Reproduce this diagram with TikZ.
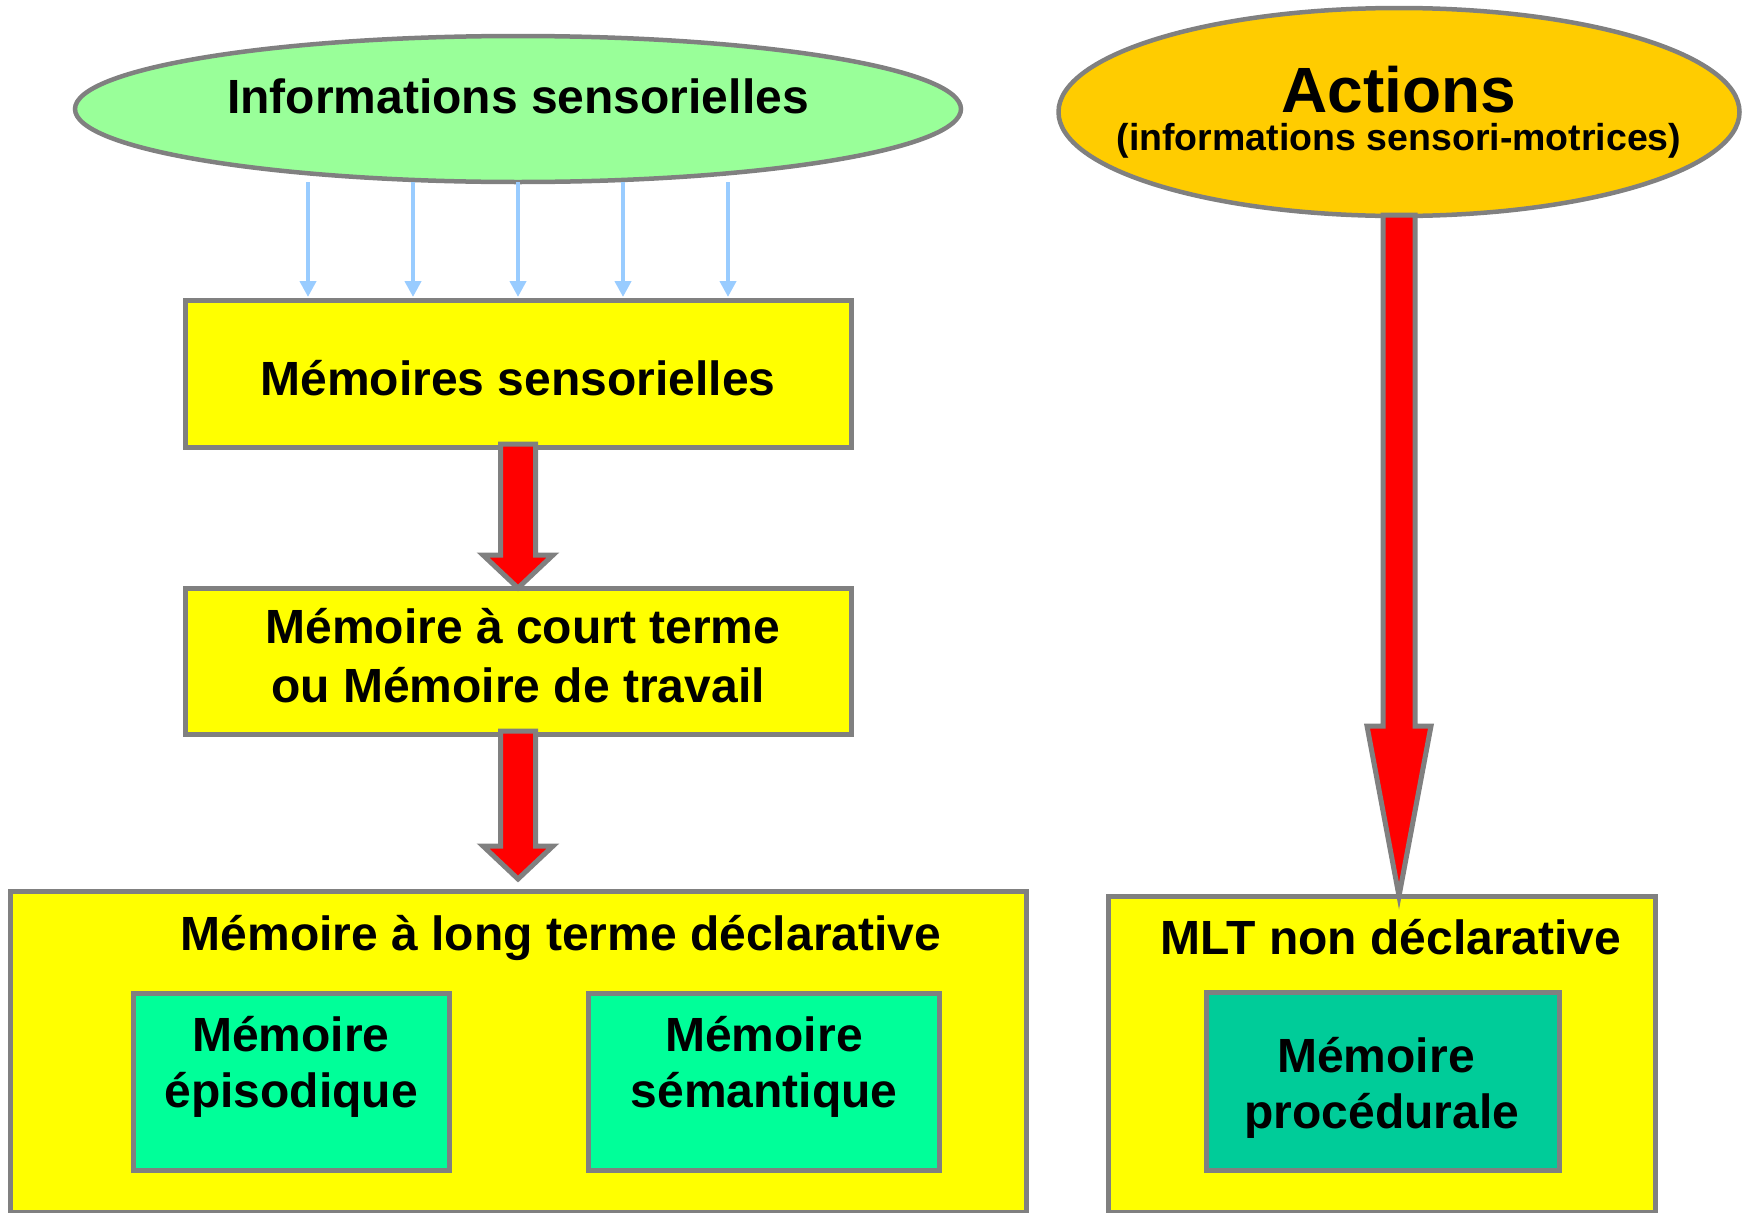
\documentclass[tikz,border=0pt]{standalone}
\usepackage{fontspec}
\setmainfont{Liberation Sans}
\usetikzlibrary{shapes.geometric,arrows.meta,calc}
\definecolor{lgreen}{HTML}{99FF99}
\definecolor{gold}{HTML}{FFCC00}
\definecolor{yel}{HTML}{FFFF00}
\definecolor{mint}{HTML}{00FF99}
\definecolor{teal2}{HTML}{00CC99}
\definecolor{grayb}{HTML}{808080}
\definecolor{skyb}{HTML}{99CCFF}
\begin{document}
\begin{tikzpicture}[x=1pt,y=-1pt,
  frame/.style={draw=grayb,line width=5pt,rectangle,inner sep=0pt,outer sep=0pt},
  oval/.style={draw=grayb,line width=4.5pt,ellipse,inner sep=0pt,outer sep=0pt},
  lbl/.style={anchor=base,inner sep=0pt,font=\bfseries\fontsize{48}{57}\selectfont},
  fat/.style={draw=grayb,line width=5pt,fill=red,line join=miter,miter limit=30},
  thinarrow/.style={draw=skyb,line width=4pt,-{Triangle[width=16pt,length=16pt]}}
]
\useasboundingbox[fill=white] (0,0) rectangle (1746,1213);

% ellipses
\node[oval,fill=lgreen,minimum width=886pt,minimum height=146pt] (info) at (518,109) {};
\node[oval,fill=gold,minimum width=681pt,minimum height=208pt] (act) at (1399,112) {};

% boxes
\node[frame,fill=yel,minimum width=666pt,minimum height=147pt] (ms) at (518,373.5) {};
\node[frame,fill=yel,minimum width=666pt,minimum height=146pt] (stm) at (518,661) {};
\node[frame,fill=yel,minimum width=1016pt,minimum height=321pt] (ltm) at (518,1051.5) {};
\node[frame,fill=mint,minimum width=316pt,minimum height=177pt] (epi) at (291,1081.5) {};
\node[frame,fill=mint,minimum width=351pt,minimum height=177pt] (sem) at (763.5,1081.5) {};
\node[frame,fill=yel,minimum width=547pt,minimum height=316pt] (mlt) at (1381.5,1054) {};
\node[frame,fill=teal2,minimum width=353pt,minimum height=178pt] (proc) at (1382.5,1081) {};

% thin blue arrows
\foreach \dx in {-210,-105,0,105,210}
  \draw[thinarrow] ($(info.south)+(\dx,0)$) -- ($(ms.north)+(\dx,-3)$);

% fat red arrows
\coordinate (a1s) at ($(ms.south)+(0,-3)$);
\coordinate (a1t) at (stm.north);
\draw[fat] ($(a1s)+(-17.5,0)$) -- ($(a1s)+(17.5,0)$) -- ($(a1t)+(17.5,-33)$) -- ($(a1t)+(35,-33)$)
  -- (a1t) -- ($(a1t)+(-35,-33)$) -- ($(a1t)+(-17.5,-33)$) -- cycle;

\coordinate (a2s) at ($(stm.south)+(0,-3)$);
\coordinate (a2t) at ($(ltm.north)+(0,-12)$);
\draw[fat] ($(a2s)+(-17.5,0)$) -- ($(a2s)+(17.5,0)$) -- ($(a2t)+(17.5,-33)$) -- ($(a2t)+(35,-33)$)
  -- (a2t) -- ($(a2t)+(-35,-33)$) -- ($(a2t)+(-17.5,-33)$) -- cycle;

\coordinate (a3s) at ($(act.south)+(0,-1)$);
\coordinate (a3t) at (act.south |- mlt.north);
\draw[fat] ($(a3s)+(-16,0)$) -- ($(a3s)+(16,0)$) -- ($(a3t)+(16,-170)$) -- ($(a3t)+(32,-170)$)
  -- (a3t) -- ($(a3t)+(-32,-170)$) -- ($(a3t)+(-16,-170)$) -- cycle;

% texts
\node[lbl] (tinfo) at (518,113) {Informations sensorielles};
\node[lbl,font=\bfseries\fontsize{64}{70}\selectfont] (tact) at (1399,112) {Actions};
\node[lbl,font=\bfseries\fontsize{37.5}{42}\selectfont] (tsub) at (1399,150) {(informations sensori-motrices)};
\node[lbl] (tms) at (518,395) {Mémoires sensorielles};
\node[lbl] (tstm1) at (523,643) {Mémoire à court terme};
\node[lbl] (tstm2) at (518,702) {ou Mémoire de travail};
\node[lbl] (tltm) at (561,950) {Mémoire à long terme déclarative};
\node[lbl] (tepi1) at (291,1051) {Mémoire};
\node[lbl] (tepi2) at (291,1107) {épisodique};
\node[lbl] (tsem1) at (764,1051) {Mémoire};
\node[lbl] (tsem2) at (764,1107) {sémantique};
\node[lbl] (tmlt) at (1391,954) {MLT non déclarative};
\node[lbl] (tproc1) at (1376,1072) {Mémoire};
\node[lbl] (tproc2) at (1382,1128) {procédurale};
\end{tikzpicture}
\end{document}
